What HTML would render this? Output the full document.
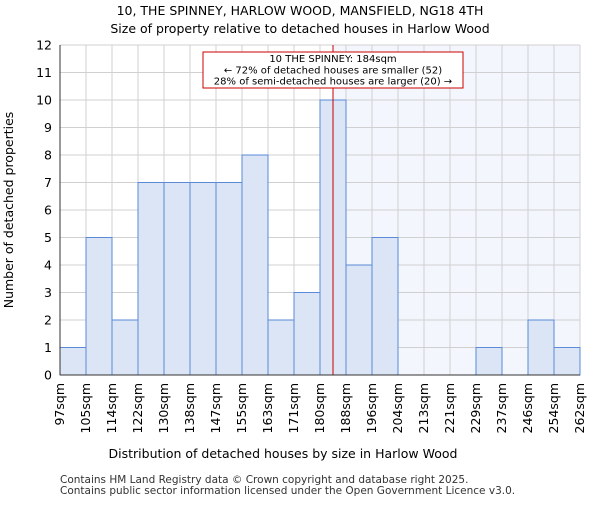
<!DOCTYPE html>
<html><head><meta charset="utf-8"><style>body{margin:0;background:#fff}svg{font-family:"DejaVu Sans","Liberation Sans",sans-serif}</style></head>
<body>
<svg id="c" width="600" height="500" viewBox="0 0 600 500"></svg>
<script>
const categories=["97sqm","105sqm","114sqm","122sqm","130sqm","138sqm","147sqm","155sqm","163sqm","171sqm","180sqm","188sqm","196sqm","204sqm","213sqm","221sqm","229sqm","237sqm","246sqm","254sqm","262sqm"];
const counts=[1,5,2,7,7,7,7,8,2,3,10,4,5,0,0,0,1,0,2,1];
const yTicks=[0,1,2,3,4,5,6,7,8,9,10,11,12];
const marker=184;
const binStarts=[97,105,114,122,130,138,147,155,163,171,180,188];
const L=60,R=580,T=45,B=375,n=counts.length,bw=(R-L)/n;
const ys=v=>B-(B-T)*v/12;
const xs=i=>L+i*bw;
const s=document.getElementById('c');const NS='http://www.w3.org/2000/svg';
function el(t,a,txt){const e=document.createElementNS(NS,t);for(const k in a)e.setAttribute(k,a[k]);if(txt!=null)e.textContent=txt;s.appendChild(e);return e;}
let mi=0;for(let i=0;i<binStarts.length-1;i++)if(marker>=binStarts[i]&&marker<binStarts[i+1])mi=i;
const mx=xs(mi)+bw*(marker-binStarts[mi])/(binStarts[mi+1]-binStarts[mi]);
let e=el('rect',{x:mx,y:T,width:R-mx,height:B-T,fill:'#f3f6fd'});

for(const t of yTicks){e=el('line',{x1:L,x2:R,y1:ys(t),y2:ys(t),stroke:'#d0d0d0'});}
for(let i=0;i<=n;i++){e=el('line',{x1:xs(i),x2:xs(i),y1:T,y2:B,stroke:'#d0d0d0'});}
counts.forEach((v,i)=>{if(v>0){e=el('rect',{x:xs(i),y:ys(v),width:bw,height:B-ys(v),fill:'#dbe5f5',stroke:'#5a8ad8','stroke-width':1});}});
e=el('line',{x1:mx,x2:mx,y1:T,y2:B,stroke:'#cc0000','stroke-width':1});
e=el('line',{x1:L,x2:L,y1:T,y2:B,stroke:'#333'});
e=el('line',{x1:L,x2:R,y1:B,y2:B,stroke:'#333'});
for(const t of yTicks){e=el('text',{x:L-8,y:ys(t)+4.5,'text-anchor':'end','font-size':12.5},t);}
categories.forEach((c,i)=>{const x=xs(i)+4;e=el('text',{x:x,y:B+8,'text-anchor':'end','font-size':12.5,transform:`rotate(-90 ${x} ${B+8})`},c);});
e=el('rect',{x:203,y:52,width:260,height:36,fill:'#fff',stroke:'#cc0000'});
[["10 THE SPINNEY: 184sqm",62],["← 72% of detached houses are smaller (52)",73.5],["28% of semi-detached houses are larger (20) →",84.5]].forEach(([t,y])=>{e=el('text',{x:333,y:y,'text-anchor':'middle','font-size':10},t);});
e=el('text',{x:300,y:15,'text-anchor':'middle','font-size':12.5},'10, THE SPINNEY, HARLOW WOOD, MANSFIELD, NG18 4TH');
e=el('text',{x:300,y:33,'text-anchor':'middle','font-size':12.5},'Size of property relative to detached houses in Harlow Wood');
e=el('text',{x:283,y:458,'text-anchor':'middle','font-size':12.5},'Distribution of detached houses by size in Harlow Wood');
e=el('text',{x:13,y:210,'text-anchor':'middle','font-size':12.5,transform:'rotate(-90 13 210)'},'Number of detached properties');
e=el('text',{x:60,y:483,'font-size':10.5,fill:'#333'},'Contains HM Land Registry data © Crown copyright and database right 2025.');
e=el('text',{x:60,y:494,'font-size':10.5,fill:'#333'},'Contains public sector information licensed under the Open Government Licence v3.0.');
</script>
</body></html>
